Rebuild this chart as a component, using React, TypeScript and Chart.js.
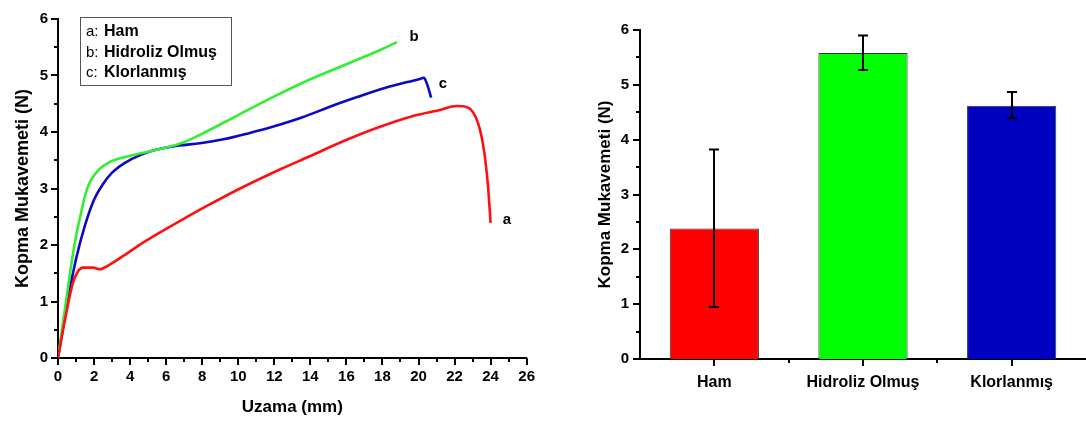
import React, { useEffect, useRef } from 'react';
import { Chart, registerables } from 'chart.js';

Chart.register(...registerables);

const FONT = '"Liberation Sans", Arial, sans-serif';

// ---- Left chart: stress-strain curves ----
const hamX = [0, 0.4, 0.8, 1.1, 1.39, 1.94, 2.32, 2.8, 3.69, 4.42, 5.54, 6.9, 8.31, 10.1, 12.4, 13.97, 15.85, 17.75, 19.66, 21.2, 22.1, 22.7, 23.3, 23.65, 23.85, 24.0];
const hamY = [0, 0.7, 1.3, 1.53, 1.6, 1.6, 1.57, 1.64, 1.82, 1.98, 2.2, 2.45, 2.7, 3.0, 3.35, 3.57, 3.84, 4.08, 4.28, 4.39, 4.46, 4.44, 4.16, 3.64, 3.06, 2.39];

const hidX = [0, 0.42, 0.9, 1.37, 1.6, 1.85, 2.32, 2.77, 3.5, 4.42, 5.94, 6.9, 7.87, 10.0, 12.0, 13.97, 16.0, 18.0, 18.8];
const hidY = [0, 0.95, 1.98, 2.7, 2.98, 3.16, 3.35, 3.45, 3.54, 3.61, 3.72, 3.81, 3.95, 4.3, 4.63, 4.93, 5.2, 5.47, 5.59];

const klorX = [0, 0.5, 1.0, 1.5, 2.0, 2.5, 3.0, 3.69, 4.62, 5.37, 6.7, 7.87, 9.18, 10.5, 12.0, 13.56, 15.26, 16.6, 18.13, 20.07, 20.3, 20.46, 20.7];
const klorY = [0, 0.95, 1.75, 2.35, 2.8, 3.08, 3.28, 3.45, 3.6, 3.68, 3.76, 3.8, 3.87, 3.97, 4.1, 4.26, 4.47, 4.62, 4.78, 4.94, 4.96, 4.86, 4.61];

const legendKeys = ['a', 'b', 'c'];
const legendNames = ['Ham', 'Hidroliz Olmuş', 'Klorlanmış'];

// ---- Right chart: bar chart with error bars ----
const barCategories = ['Ham', 'Hidroliz Olmuş', 'Klorlanmış'];
const barValues = [2.38, 5.58, 4.62];
const errLow = [0.95, 5.27, 4.39];
const errHigh = [3.82, 5.9, 4.87];

const RED = '#ff1010';
const GREEN = '#33ee33';
const BLUE = '#0a0ac4';

function zip(xs: number[], ys: number[]) {
  return xs.map((x, i) => ({ x, y: ys[i] }));
}

function range(a: number, b: number, step: number) {
  const out: number[] = [];
  for (let v = a; v <= b + 1e-9; v += step) out.push(Math.round(v * 1000) / 1000);
  return out;
}

type TickSpec = { axis: 'x' | 'y'; values: number[]; len: number };

function makeTickPlugin(specs: TickSpec[]) {
  return {
    id: 'axisTicks',
    afterDraw(chart: any) {
      const ctx = chart.ctx;
      ctx.save();
      ctx.strokeStyle = '#000';
      ctx.lineWidth = 2;
      for (const t of specs) {
        const s = chart.scales[t.axis];
        for (const v of t.values) {
          const p = Math.round(s.getPixelForValue(v));
          ctx.beginPath();
          if (t.axis === 'x') {
            ctx.moveTo(p, s.top);
            ctx.lineTo(p, s.top + t.len);
          } else {
            ctx.moveTo(s.right, p);
            ctx.lineTo(s.right - t.len, p);
          }
          ctx.stroke();
        }
      }
      ctx.restore();
    },
  };
}

const leftAnnotations = [
  { text: 'b', x: 19.75, y: 5.69 },
  { text: 'c', x: 21.35, y: 4.85 },
  { text: 'a', x: 24.9, y: 2.45 },
];

const leftDecorPlugin = {
  id: 'leftDecor',
  afterDraw(chart: any) {
    const ctx = chart.ctx;
    const xs = chart.scales.x;
    const ys = chart.scales.y;
    ctx.save();
    // legend box
    ctx.strokeStyle = '#555';
    ctx.lineWidth = 1;
    ctx.strokeRect(80.5, 17.5, 151, 68);
    ctx.textBaseline = 'middle';
    ctx.fillStyle = '#000';
    for (let i = 0; i < legendKeys.length; i++) {
      const y = 32 + i * 20.5;
      ctx.font = `15px ${FONT}`;
      ctx.textAlign = 'left';
      ctx.fillText(legendKeys[i] + ':', 86, y);
      ctx.font = `bold 16px ${FONT}`;
      ctx.fillText(legendNames[i], 104, y);
    }
    // curve labels
    ctx.font = `bold 15px ${FONT}`;
    ctx.textAlign = 'center';
    for (const a of leftAnnotations) {
      ctx.fillText(a.text, xs.getPixelForValue(a.x), ys.getPixelForValue(a.y));
    }
    ctx.restore();
  },
};

const errorBarPlugin = {
  id: 'errorBars',
  afterDatasetsDraw(chart: any) {
    const ctx = chart.ctx;
    const xs = chart.scales.x;
    const ys = chart.scales.y;
    ctx.save();
    ctx.strokeStyle = '#000';
    ctx.lineWidth = 2;
    for (let i = 0; i < barValues.length; i++) {
      const x = Math.round(xs.getPixelForValue(i));
      const y1 = ys.getPixelForValue(errLow[i]);
      const y2 = ys.getPixelForValue(errHigh[i]);
      ctx.beginPath();
      ctx.moveTo(x, y1);
      ctx.lineTo(x, y2);
      ctx.moveTo(x - 5, y1);
      ctx.lineTo(x + 5, y1);
      ctx.moveTo(x - 5, y2);
      ctx.lineTo(x + 5, y2);
      ctx.stroke();
    }
    ctx.restore();
  },
};

function LeftChart() {
  const ref = useRef<HTMLCanvasElement>(null);
  useEffect(() => {
    const lineDs = (data: any[], color: string) => ({
      data,
      borderColor: color,
      backgroundColor: color,
      borderWidth: 2.6,
      pointRadius: 0,
      cubicInterpolationMode: 'monotone',
      fill: false,
    });
    const chart = new Chart(ref.current!, {
      type: 'line',
      data: {
        datasets: [
          lineDs(zip(hamX, hamY), RED),
          lineDs(zip(hidX, hidY), GREEN),
          lineDs(zip(klorX, klorY), BLUE),
        ],
      },
      options: {
        animation: false,
        responsive: false,
        devicePixelRatio: 1,
        layout: { padding: { top: 14, right: 18, left: 0, bottom: 0 } },
        plugins: { legend: { display: false }, tooltip: { enabled: false } },
        scales: {
          x: {
            type: 'linear',
            min: 0,
            max: 26,
            afterFit: (s: any) => { s.height = 63; },
            grid: { display: false, drawTicks: false },
            border: { display: true, color: '#000', width: 2 },
            ticks: { stepSize: 2, padding: 10, color: '#000', font: { family: FONT, size: 15, weight: 'bold' } },
            title: { display: true, text: 'Uzama (mm)', color: '#000', padding: { top: 0, bottom: 3 }, font: { family: FONT, size: 17, weight: 'bold' } },
          },
          y: {
            type: 'linear',
            min: 0,
            max: 6,
            afterFit: (s: any) => { s.width = 58; },
            grid: { display: false, drawTicks: false },
            border: { display: true, color: '#000', width: 2 },
            ticks: { stepSize: 1, padding: 10, color: '#000', font: { family: FONT, size: 15, weight: 'bold' } },
            title: { display: true, text: 'Kopma Mukavemeti (N)', color: '#000', padding: { top: 12, bottom: 0 }, font: { family: FONT, size: 18, weight: 'bold' } },
          },
        },
      },
      plugins: [
        makeTickPlugin([
          { axis: 'x', values: range(0, 26, 2), len: 7 },
          { axis: 'x', values: range(1, 25, 2), len: 4 },
          { axis: 'y', values: range(0, 6, 1), len: 7 },
          { axis: 'y', values: range(0.5, 5.5, 1), len: 4 },
        ]),
        leftDecorPlugin,
      ],
    } as any);
    return () => chart.destroy();
  }, []);
  return <canvas ref={ref} width={545} height={421} style={{ position: 'absolute', left: 0, top: 0, width: 545, height: 421 }} />;
}

function RightChart() {
  const ref = useRef<HTMLCanvasElement>(null);
  useEffect(() => {
    const chart = new Chart(ref.current!, {
      type: 'bar',
      data: {
        labels: barCategories,
        datasets: [
          {
            data: barValues,
            backgroundColor: ['#ff0000', '#00ff00', '#0000c0'],
            borderColor: '#333',
            borderWidth: 1,
            barPercentage: 0.6,
            categoryPercentage: 1,
          },
        ],
      },
      options: {
        animation: false,
        responsive: false,
        devicePixelRatio: 1,
        layout: { padding: { top: 30, right: 0, left: 0, bottom: 0 } },
        plugins: { legend: { display: false }, tooltip: { enabled: false } },
        scales: {
          x: {
            type: 'category',
            offset: true,
            afterFit: (s: any) => { s.height = 62; },
            grid: { display: false, drawTicks: false },
            border: { display: true, color: '#000', width: 2 },
            ticks: { padding: 14, color: '#000', font: { family: FONT, size: 16, weight: 'bold' } },
          },
          y: {
            type: 'linear',
            min: 0,
            max: 6,
            afterFit: (s: any) => { s.width = 80; },
            grid: { display: false, drawTicks: false },
            border: { display: true, color: '#000', width: 2 },
            ticks: { stepSize: 1, padding: 11, color: '#000', font: { family: FONT, size: 15, weight: 'bold' } },
            title: { display: true, text: 'Kopma Mukavemeti (N)', color: '#000', padding: { top: 35, bottom: 0 }, font: { family: FONT, size: 17, weight: 'bold' } },
          },
        },
      },
      plugins: [
        makeTickPlugin([
          { axis: 'x', values: [0, 1, 2], len: 7 },
          { axis: 'x', values: [0.5, 1.5], len: 4 },
          { axis: 'y', values: range(0, 6, 1), len: 7 },
          { axis: 'y', values: range(0.5, 5.5, 1), len: 4 },
        ]),
        errorBarPlugin,
      ],
    } as any);
    return () => chart.destroy();
  }, []);
  return <canvas ref={ref} width={526} height={421} style={{ position: 'absolute', left: 560, top: 0, width: 526, height: 421 }} />;
}

export default function App() {
  return (
    <div style={{ position: 'absolute', left: 0, top: 0, width: 1086, height: 421, background: '#fff', overflow: 'hidden' }}>
      <LeftChart />
      <RightChart />
    </div>
  );
}
